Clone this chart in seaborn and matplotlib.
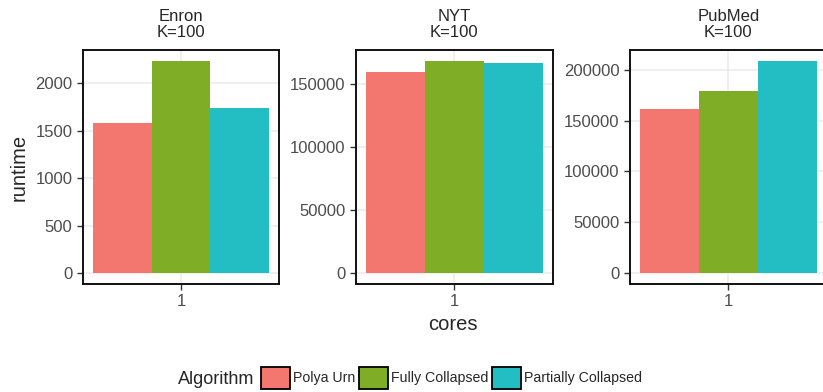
import pandas as pd
import matplotlib
matplotlib.use('Agg')
import matplotlib.pyplot as plt
import seaborn as sns
from matplotlib.patches import Patch
from matplotlib.ticker import FuncFormatter

# Data
datasets = ['Enron', 'NYT', 'PubMed']
topics = ['K=100', 'K=100', 'K=100']
algorithms = ['Polya Urn', 'Fully Collapsed', 'Partially Collapsed']
cores = ['1']
enron_runtime = [1580, 2240, 1740]
nyt_runtime = [158900, 168100, 166000]
pubmed_runtime = [161100, 178700, 208800]
y_ticks = [
    [0, 500, 1000, 1500, 2000],
    [0, 50000, 100000, 150000],
    [0, 50000, 100000, 150000, 200000],
]
colors = ['#F4776F', '#7FAD26', '#22BEC4']

runtimes = [enron_runtime, nyt_runtime, pubmed_runtime]
rows = []
for ds, vals in zip(datasets, runtimes):
    for alg, v in zip(algorithms, vals):
        rows.append({'dataset': ds, 'Algorithm': alg, 'cores': cores[0], 'runtime': v})
df = pd.DataFrame(rows)

sns.set_style('white')
plt.rcParams['font.family'] = ['Liberation Sans', 'DejaVu Sans']

W, H = 823, 392
fig = plt.figure(figsize=(W / 100, H / 100), dpi=100)

panel_left = [82.7, 356.0, 630.0]
panel_w = 196.6
panel_top, panel_bottom = 50, 284
palette = dict(zip(algorithms, colors))

for i, ds in enumerate(datasets):
    ax = fig.add_axes([panel_left[i] / W, (H - panel_bottom) / H,
                       panel_w / W, (panel_bottom - panel_top) / H])
    sub = df[df['dataset'] == ds]
    sns.barplot(data=sub, x='cores', y='runtime', hue='Algorithm',
                hue_order=algorithms, palette=palette, width=0.9, gap=0,
                saturation=1, errorbar=None, legend=False, linewidth=0, ax=ax)
    ymax = sub['runtime'].max()
    ax.set_ylim(-0.05 * ymax, 1.05 * ymax)
    ax.set_xlim(-0.5, 0.5)
    ax.set_yticks(y_ticks[i])
    ax.yaxis.set_major_formatter(FuncFormatter(lambda v, p: '%d' % v))
    ax.grid(True, color='#EBEBEB', linewidth=1.1)
    ax.set_axisbelow(True)
    for s in ax.spines.values():
        s.set_color('#111111')
        s.set_linewidth(1.4)
        s.set_visible(True)
    ax.tick_params(axis='both', which='major', length=4, width=1, color='#333333',
                   labelcolor='#4D4D4D', labelsize=12, pad=3.5, left=True, bottom=True)
    ax.set_xlabel('')
    ax.set_ylabel('')
    ax.set_title(ds + '\n' + topics[i], fontsize=12, pad=9.5, linespacing=1.05)

fig.text(19 / W, 1 - 167.5 / H, 'runtime', fontsize=14.5, rotation=90,
         ha='center', va='center')
fig.text(453 / W, 1 - 325 / H, 'cores', fontsize=14.5, ha='center', va='center')

handles = [Patch(facecolor=c, edgecolor='black', linewidth=1.3, label=a)
           for a, c in zip(algorithms, colors)]
fig.text(178 / W, 1 - 380 / H, 'Algorithm', fontsize=13, ha='left', va='center')
fig.legend(handles=handles, loc='center left', bbox_to_anchor=(261 / W, 1 - 378 / H),
           ncol=3, frameon=False, fontsize=10.2, handlelength=2.05, handleheight=2.05,
           handletextpad=0.2, columnspacing=0.28, borderpad=0, borderaxespad=0)

fig.savefig('out.png', dpi=100)
